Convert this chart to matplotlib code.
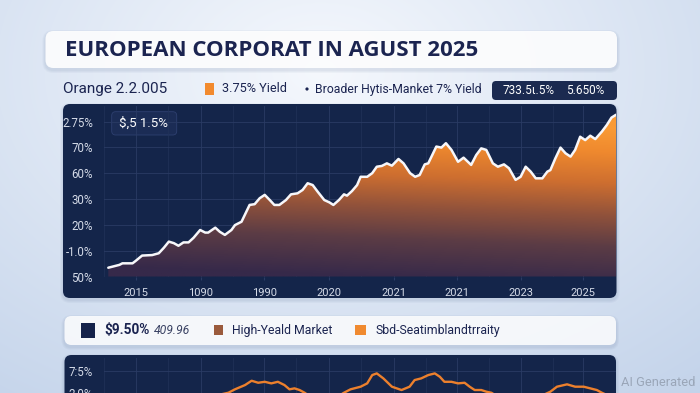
import matplotlib
matplotlib.use("Agg")
import matplotlib.pyplot as plt
import numpy as np
from matplotlib.colors import LinearSegmentedColormap, to_rgb
from matplotlib.patches import FancyBboxPatch, Rectangle, Circle

W, H, DPI = 700, 393, 100

# main chart, x on a 0-100 time scale, y in index points (ticks every 10)
main_x = [0.0, 2.2, 2.8, 4.8, 5.4, 6.7, 8.7, 10.0, 11.0, 12.0, 13.0, 13.9, 14.9, 15.9,
          16.9, 18.2, 19.2, 19.8, 21.2, 22.1, 23.1, 24.4, 25.1, 26.4, 28.0, 29.0, 30.0,
          31.0, 32.0, 32.9, 33.9, 35.2, 36.2, 37.5, 38.5, 39.5, 40.5, 41.5, 42.8, 43.8,
          44.6, 45.7, 46.7, 47.3, 48.3, 49.3, 50.0, 51.3, 52.3, 53.2, 54.2, 55.2, 56.2,
          57.5, 58.5, 59.8, 60.8, 61.7, 62.7, 63.4, 65.0, 66.0, 66.9, 68.0, 69.3, 70.4,
          71.9, 72.9, 73.9, 74.9, 76.2, 77.2, 78.4, 79.4, 80.7, 81.7, 82.7, 83.7, 84.7,
          86.0, 87.0, 87.6, 88.6, 89.6, 90.6, 91.6, 92.5, 93.5, 94.5, 95.5, 96.5, 97.8,
          98.8, 99.7, 100.6]
main_y = [3.4, 4.5, 5.1, 5.1, 6.0, 8.1, 8.3, 9.0, 11.1, 13.5, 12.9, 11.9, 13.2, 13.2,
          15.0, 18.0, 17.0, 17.0, 18.9, 17.3, 16.1, 18.0, 19.9, 21.2, 27.7, 28.0, 30.3,
          31.6, 29.6, 27.7, 27.7, 29.6, 31.8, 32.2, 33.5, 36.1, 35.4, 32.8, 29.6, 28.7,
          27.7, 29.6, 31.8, 31.3, 33.1, 35.4, 38.6, 38.6, 40.0, 42.5, 42.8, 43.8, 42.9,
          45.5, 43.8, 40.0, 38.6, 39.3, 43.4, 43.8, 50.3, 49.9, 51.6, 49.0, 44.4, 46.0,
          43.2, 47.0, 49.6, 49.0, 43.8, 42.5, 43.4, 41.9, 37.4, 38.6, 42.5, 40.6, 38.0,
          38.0, 40.6, 41.2, 45.8, 49.9, 47.7, 46.4, 49.0, 54.1, 52.8, 54.5, 53.2, 56.1,
          58.7, 61.5, 62.6]
main_xticks = [5.5, 18.3, 30.9, 43.8, 56.6, 69.0, 81.7, 94.1]
main_xlabels = ["2015", "1090", "1990", "2020", "2021", "2021", "2023", "2025"]
main_yticks = [0, 10, 20, 30, 40, 50, 60]
main_ylabels = ["50%", "-1.0%", "20%", "30%", "60%", "70%", "2.75%"]

# lower chart (only its top edge is visible)
lower_x = [0.0, 11.0, 20.4, 23.8, 25.1, 27.1, 28.4, 29.7, 31.0, 32.3, 33.6, 34.9, 35.9,
           36.9, 37.9, 38.9, 41.4, 44.4, 46.7, 48.0, 50.0, 51.3, 52.3, 53.2, 54.5, 56.2,
           58.1, 59.7, 60.7, 62.0, 63.4, 64.7, 65.7, 66.6, 68.0, 69.3, 70.6, 71.6, 72.6,
           73.9, 74.9, 75.9, 78.8, 83.7, 87.6, 88.9, 90.9, 92.5, 94.2, 95.5, 96.8, 97.8,
           100.6]
lower_y = [4.0, 4.3, 4.6, 5.03, 5.42, 5.91, 6.40, 6.17, 6.28, 6.10, 6.28, 5.91, 5.42,
           5.53, 5.34, 5.03, 4.0, 4.2, 5.03, 5.42, 5.72, 6.10, 7.05, 7.24, 6.67, 5.72,
           5.34, 5.72, 6.48, 6.67, 7.05, 7.24, 6.85, 6.28, 6.28, 6.10, 6.17, 5.72, 5.34,
           5.34, 5.15, 5.03, 4.0, 4.1, 5.15, 5.72, 5.99, 5.72, 5.72, 5.53, 5.34, 5.03,
           4.3]
lower_yticks = [5.0, 7.5]
lower_ylabels = ["2.0%", "7:5%"]

NAVY = "#14254a"
TEXT_DARK = "#1b2450"
TICK_TEXT = "#d5dbe8"
GRID = "#2a3b64"
XMAX = 100.6

plt.rcParams["font.family"] = ["Roboto", "DejaVu Sans"]

fig = plt.figure(figsize=(W / DPI, H / DPI), dpi=DPI)

# background in pixel coordinates
bg = fig.add_axes([0, 0, 1, 1])
yy, xx = np.mgrid[0:H, 0:W]
d = np.clip(np.sqrt(((xx - 320) / 600) ** 2 + ((yy - 70) / 420) ** 2), 0, 1)
light, dark = np.array(to_rgb("#f5f8fd")), np.array(to_rgb("#c3d3ea"))
bg.imshow(light * (1 - d[..., None]) + dark * d[..., None], extent=[0, W, H, 0],
          aspect="auto", zorder=0)
bg.set_xlim(0, W)
bg.set_ylim(H, 0)
bg.axis("off")


def box(x0, y0, x1, y1, color, r=6, alpha=1.0, ec="none", shadow=False):
    if shadow:
        for k in range(1, 4):
            bg.add_patch(FancyBboxPatch((x0 - k, y0 - k + 2), x1 - x0 + 2 * k, y1 - y0 + 2 * k,
                                        boxstyle=f"round,pad=0,rounding_size={r + k}",
                                        fc="#5a6f96", ec="none", alpha=0.05, zorder=1))
    bg.add_patch(FancyBboxPatch((x0, y0), x1 - x0, y1 - y0,
                                boxstyle=f"round,pad=0,rounding_size={r}",
                                fc=color, ec=ec, lw=0.6, alpha=alpha, zorder=2))


# title bar
box(45.5, 31, 617, 68, "white", r=8, alpha=0.9, shadow=True)
bg.text(65, 51, "EUROPEAN CORPORAT IN AGUST 2025", fontsize=16, fontweight="bold",
        color=TEXT_DARK, va="center", ha="left", family=["Open Sans", "DejaVu Sans"], zorder=3)

# header legend row
bg.text(63, 89, "Orange 2.2.005", fontsize=11, color=TEXT_DARK, va="center", zorder=3)
bg.add_patch(Rectangle((205, 83), 9, 12, fc="#f28a2e", ec="none", zorder=3))
bg.text(222, 89, "3.75% Yield", fontsize=9.2, color=TEXT_DARK, va="center", zorder=3)
bg.add_patch(Circle((307, 89), 1.6, fc=TEXT_DARK, ec="none", zorder=3))
bg.text(315, 89, "Broader Hytis-Manket 7% Yield", fontsize=8.8, color=TEXT_DARK,
        va="center", zorder=3)
box(492, 81, 617, 100, "#1b2a50", r=4)
bg.text(503, 90.5, "733.5ι.5%", fontsize=8.5, color="white", va="center", zorder=3)
bg.text(566, 90.5, "5.650%", fontsize=8.5, color="white", va="center", zorder=3)

# main panel
box(63, 104, 616.5, 298, NAVY, r=7, shadow=True)

# lower legend bar and panel
box(64.5, 316, 616, 345, "white", r=7, alpha=0.85, shadow=True)
bg.add_patch(Rectangle((81, 323), 13.5, 15, fc="#14224a", ec="none", zorder=3))
bg.text(104, 330.5, "$9.50%", fontsize=9.8, fontweight="bold", color=TEXT_DARK,
        va="center", zorder=3)
bg.text(154, 330.5, "409.96", fontsize=8.8, style="italic", color="#3a4263",
        va="center", zorder=3)
bg.add_patch(Rectangle((214, 325), 9, 10, fc="#9a5a3c", ec="none", zorder=3))
bg.text(231.5, 330.5, "High-Yeald Market", fontsize=8.8, color=TEXT_DARK, va="center", zorder=3)
bg.add_patch(Rectangle((355, 325), 11, 10, fc="#f08a30", ec="none", zorder=3))
bg.text(375, 330.5, "Sbd-Seatimblandtrraity", fontsize=8.8, color=TEXT_DARK,
        va="center", zorder=3)
box(64.5, 355, 616, 410, NAVY, r=7, shadow=True)

bg.text(695, 383, "AI Generated", fontsize=9.3, color="#9aa6b8", ha="right",
        va="center", zorder=3)

# main chart axes
ax = fig.add_axes([104 / W, 1 - 276.5 / H, 512 / W, 170.5 / H])
ax.patch.set_visible(False)
ymax = 66
poly = ax.fill_between(main_x, main_y, 0, facecolor="none", edgecolor="none")
fill_cmap = LinearSegmentedColormap.from_list(
    "fill", [(0, "#36294a"), (0.25, "#5c3c45"), (0.45, "#91523b"),
             (0.65, "#cd6e30"), (0.85, "#ef892e"), (1, "#f99a35")])
gy, gx = np.mgrid[0:1:200j, 0:1:300j]
t = np.clip(gy * 1.08 + 0.12 * (gx - 0.5), 0, 1)
im = ax.imshow(fill_cmap(t), extent=[0, XMAX, 0, ymax], origin="lower",
               aspect="auto", zorder=1)
im.set_clip_path(poly.get_paths()[0], transform=ax.transData)
ax.plot(main_x, main_y, color="#f7f7fa", lw=1.8, solid_joinstyle="round",
        solid_capstyle="round", zorder=3)
ax.set_xlim(0, XMAX)
ax.set_ylim(0, ymax)
ax.set_xticks(main_xticks, main_xlabels)
ax.set_xticks([v + 6.35 for v in main_xticks[:-1]] + [main_xticks[0] - 6.35], minor=True)
ax.set_yticks(main_yticks, main_ylabels)
ax.tick_params(axis="x", colors=GRID, labelcolor=TICK_TEXT, labelsize=8, length=2, pad=6)
ax.tick_params(axis="x", which="minor", length=0)
ax.tick_params(axis="y", length=0, labelcolor=TICK_TEXT, labelsize=8.3, pad=8)
ax.grid(True, which="major", color=GRID, lw=0.6, zorder=0)
ax.grid(True, which="minor", axis="x", color="#213359", lw=0.5, zorder=0)
for s in ax.spines.values():
    s.set_visible(False)
ax.set_axisbelow(True)

# value badge inside the plot
box(111.7, 111.7, 176.7, 135, "#1b2c55", r=4, ec="#2e4070")
fig.text(119 / W, 1 - 123.5 / H, "$,5 1.5%", fontsize=9.5, color="white", va="center",
         zorder=10)

# lower chart axes
ax2 = fig.add_axes([104 / W, 1 - 414 / H, 512 / W, 56 / H])
ax2.patch.set_visible(False)
ax2.plot(lower_x, lower_y, color="#ec802d", lw=1.7, solid_joinstyle="round")
ax2.set_xlim(0, XMAX)
ax2.set_ylim(2.6, 9.0)
ax2.set_yticks(lower_yticks, lower_ylabels)
ax2.set_xticks(main_xticks)
ax2.set_xticks([v + 6.35 for v in main_xticks[:-1]] + [main_xticks[0] - 6.35], minor=True)
ax2.tick_params(axis="x", which="both", length=0, labelbottom=False)
ax2.tick_params(axis="y", length=0, labelcolor=TICK_TEXT, labelsize=8.3, pad=8)
ax2.grid(True, which="major", color=GRID, lw=0.6, zorder=0)
ax2.grid(True, which="minor", axis="x", color="#213359", lw=0.5, zorder=0)
for s in ax2.spines.values():
    s.set_visible(False)
ax2.set_axisbelow(True)

fig.savefig("out.png", dpi=DPI)
